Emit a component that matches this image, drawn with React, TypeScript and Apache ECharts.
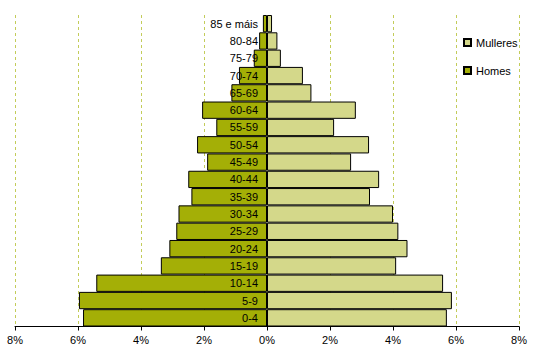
import React, { useEffect, useRef } from "react";
import * as echarts from "echarts";

const categories = ["0-4", "5-9", "10-14", "15-19", "20-24", "25-29", "30-34", "35-39", "40-44", "45-49", "50-54", "55-59", "60-64", "65-69", "70-74", "75-79", "80-84", "85 e máis"];
const homes = [5.84, 5.97, 5.42, 3.37, 3.10, 2.88, 2.81, 2.40, 2.50, 1.90, 2.22, 1.61, 2.06, 1.13, 0.89, 0.42, 0.25, 0.13];
const mulleres = [5.71, 5.87, 5.59, 4.10, 4.46, 4.17, 4.00, 3.27, 3.56, 2.67, 3.24, 2.13, 2.82, 1.41, 1.14, 0.44, 0.33, 0.16];
const xTicks = { min: -8, max: 8, interval: 2 };

const FONT = "'Liberation Sans', Arial, sans-serif";

export default function App() {
  const ref = useRef<HTMLDivElement>(null);
  useEffect(() => {
    const chart = echarts.init(ref.current!, null, { renderer: "svg" });
    chart.setOption({
      animation: false,
      textStyle: { fontFamily: FONT },
      grid: { left: 15, right: 15, top: 15, bottom: 31.5, containLabel: false, outerBoundsMode: "none" },
      legend: {
        data: ["Mulleres", "Homes"],
        orient: "vertical",
        left: 458,
        top: 32,
        itemWidth: 7,
        itemHeight: 7,
        itemGap: 17,
        icon: "rect",
        textStyle: { fontFamily: FONT, fontSize: 11, color: "#000" },
      },
      xAxis: {
        type: "value",
        min: xTicks.min,
        max: xTicks.max,
        interval: xTicks.interval,
        axisLine: { show: true, onZero: false, lineStyle: { color: "#000", width: 1 } },
        axisTick: { show: true, length: 4, lineStyle: { color: "#000" } },
        axisLabel: {
          color: "#000",
          fontSize: 11,
          fontFamily: FONT,
          margin: 8,
          formatter: (v: number) => Math.abs(v) + "%",
        },
        splitLine: { show: true, lineStyle: { color: "#C3CC5A", type: [3, 3], width: 1 } },
      },
      yAxis: {
        type: "category",
        data: categories,
        axisLine: { show: false },
        axisTick: { show: false },
        axisLabel: { show: false },
        splitLine: { show: false },
      },
      series: [
        {
          name: "Homes",
          type: "bar",
          stack: "p",
          barCategoryGap: 0,
          data: homes.map((v) => -v),
          itemStyle: { color: "#A4AF06", borderColor: "#000", borderWidth: 1 },
          z: 2,
          label: {
            show: true,
            position: "insideRight",
            distance: 9,
            formatter: "{b}",
            color: "#000",
            fontSize: 11,
            fontFamily: FONT,
          },
        },
        {
          name: "Mulleres",
          type: "bar",
          stack: "p",
          barCategoryGap: 0,
          data: mulleres,
          z: 1,
          itemStyle: { color: "#D4D88A", borderColor: "#000", borderWidth: 1 },
        },
      ],
    });
    return () => chart.dispose();
  }, []);
  return <div ref={ref} style={{ position: "absolute", left: 0, top: 0, width: 534, height: 358 }} />;
}
